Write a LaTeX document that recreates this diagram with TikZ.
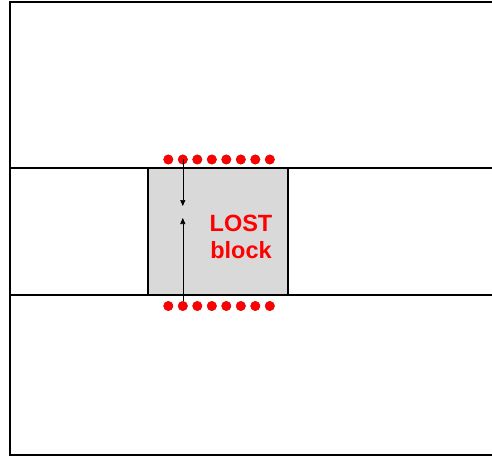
\documentclass[tikz,border=0pt]{standalone}
\usepackage{fontspec}
\setmainfont{Liberation Sans}
\usetikzlibrary{arrows.meta}
\begin{document}
\begin{tikzpicture}[x=1pt,y=-1pt,
  dotnode/.style={circle,fill=red,draw=red!80!black,line width=0.4pt,inner sep=0pt,minimum size=9.5pt},
  wall/.style={line width=2pt,black},
  flow/.style={line width=0.6pt,-{Triangle[length=6pt,width=5pt]}}]
\useasboundingbox (0,0) rectangle (492,457);
% outer frame
\draw[line width=2.6pt] (492,2) -- (10,2) -- (10,455) -- (492,455);
% gray block
\node[draw,line width=2pt,fill=black!15,minimum width=140pt,minimum height=127pt,inner sep=0pt,outer sep=0pt,anchor=north west] (blk) at (148,168) {};
% horizontal lines
\draw[wall] (10,168) -- (492,168);
\draw[wall] (10,295) -- (492,295);
\draw[wall] (blk.north west) -- (blk.south west);
\draw[wall] (blk.north east) -- (blk.south east);
% dots
\foreach \i in {1,...,8} {
  \node[dotnode] (t\i) at ({168.3+(\i-1)*14.5},159.5) {};
  \node[dotnode] (b\i) at ({168.3+(\i-1)*14.5},306) {};
}
\coordinate (ta) at (t2 |- 0,206);
\coordinate (ba) at (b2 |- 0,218);
\draw[flow] (t2.center) -- (ta);
\draw[flow] (b2.north) -- (ba);
\node[text=red,font=\bfseries\fontsize{23.5}{27}\selectfont,align=center] (lbl) at (241,237) {LOST\\block};
\end{tikzpicture}
\end{document}
